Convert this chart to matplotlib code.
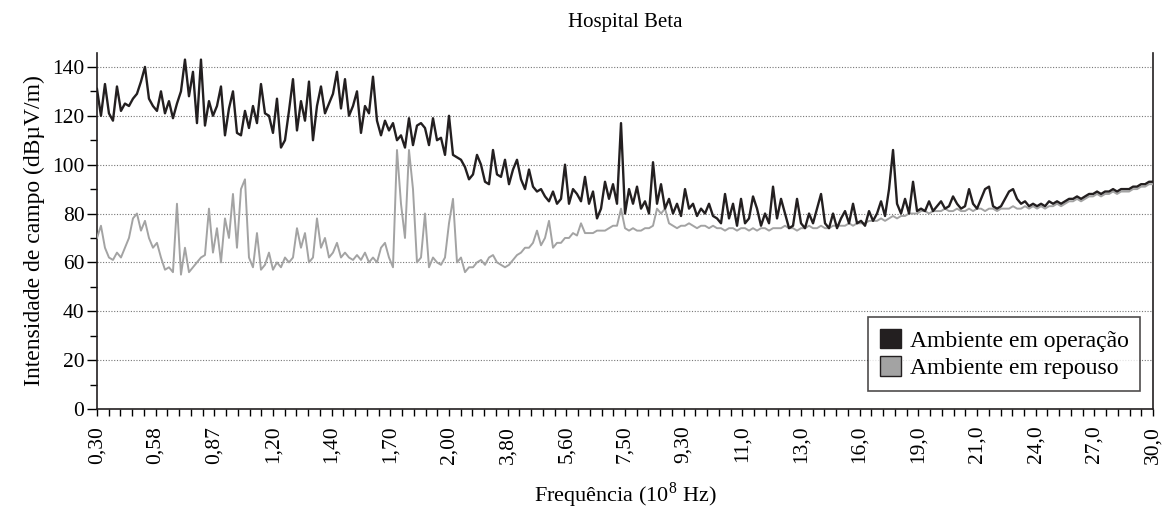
import matplotlib.pyplot as plt
import numpy as np
from matplotlib.patches import Patch

plt.rcParams['font.family'] = 'Liberation Serif'
plt.rcParams['mathtext.fontset'] = 'custom'
plt.rcParams['mathtext.rm'] = 'Liberation Serif'

# tick labels along the frequency axis (10^8 Hz)
freq_labels = ['0,30', '0,58', '0,87', '1,20', '1,40', '1,70', '2,00', '3,80', '5,60',
               '7,50', '9,30', '11,0', '13,0', '16,0', '19,0', '21,0', '24,0', '27,0', '30,0']

# field strength (dBuV/m), ambient in operation
operacao = [
    131, 120, 133, 121, 118, 132, 122, 125, 124, 127, 129, 134, 140, 127, 124,
    122, 130, 121, 126, 119, 125, 130, 143, 128, 138, 117, 143, 116, 126, 120,
    124, 132, 112, 123, 130, 113, 112, 122, 115, 124, 117, 133, 121, 120, 113, 127, 107,
    110, 122, 135, 114, 126, 118, 134, 110, 124, 132, 121, 125, 129, 138, 123,
    135, 120, 124, 130, 113, 124, 121, 136, 118, 112, 118, 114, 117, 110, 112,
    107, 119, 108, 116, 117, 115, 108, 119, 110, 111, 104, 120, 104, 103, 102, 99, 94,
    96, 104, 100, 93, 92, 106, 96, 95, 102, 92, 98, 102, 94, 90, 98,
    91, 89, 90, 87, 85, 89, 84, 86, 100, 84, 90, 88, 85, 95, 84,
    89, 78, 82, 93, 86, 92, 84, 117, 80, 90, 84, 91, 82, 85, 80, 101,
    84, 92, 82, 86, 80, 84, 79, 90, 82, 84, 79, 82, 80, 84, 79, 78,
    76, 88, 78, 84, 75, 86, 76, 78, 87, 82, 75, 80, 76, 91, 78,
    86, 80, 74, 75, 86, 76, 74, 80, 76, 82, 88, 76, 74, 80, 74,
    78, 81, 76, 84, 76, 77, 75, 81, 77, 80, 85, 79, 90, 106, 84, 80, 86, 80, 93,
    81, 82, 81, 85, 81, 83, 85, 82, 83, 87, 84, 82, 83, 90, 84, 82, 86, 90, 91, 83,
    82, 83, 86, 89, 90, 86, 84, 85, 83, 84, 83,
    84, 83, 85, 84, 85, 84, 85, 86, 86, 87, 86, 87, 88, 88, 89, 88, 89, 89, 90, 89,
    90, 90, 90, 91, 91, 92, 92, 93, 93,
]

# ambient at rest
repouso = [
    70, 75, 66, 62, 61, 64, 62, 66, 70, 78, 80, 73, 77, 70, 66,
    68, 62, 57, 58, 56, 84, 55, 66, 56, 58, 60, 62, 63, 82, 64,
    74, 60, 78, 70, 88, 66, 90, 94, 62, 58, 72, 57, 59, 64, 57, 60, 58,
    62, 60, 62, 74, 66, 72, 60, 62, 78, 66, 70, 62, 64, 68, 62,
    64, 62, 61, 63, 61, 64, 60, 62, 60, 66, 68, 62, 58, 106, 84,
    70, 106, 90, 60, 62, 80, 58, 62, 60, 59, 62, 76, 86, 60, 62, 56, 58,
    58, 60, 61, 59, 62, 63, 60, 59, 58, 59, 61, 63, 64, 66, 66,
    68, 73, 67, 70, 77, 66, 68, 68, 70, 70, 72, 71, 76, 72, 72,
    72, 73, 73, 73, 74, 75, 75, 82, 74, 73, 74, 73, 73, 74, 74, 75,
    82, 80, 82, 76, 75, 74, 75, 75, 76, 75, 74, 75, 75, 74, 75, 74,
    74, 73, 74, 74, 73, 74, 74, 73, 74, 73, 74, 74, 73, 74, 74,
    74, 75, 74, 74, 73, 74, 74, 75, 74, 74, 75, 74, 74, 75, 75,
    75, 75, 76, 75, 76, 76, 76, 77, 77, 77, 78, 77, 78, 79, 78, 79, 79, 80, 80,
    80, 81, 81, 80, 81, 81, 81, 82, 81, 81, 82, 81, 81, 82, 81, 82, 82, 81, 82, 82,
    81, 82, 82, 82, 83, 82, 82, 83, 82, 83, 82,
    83, 82, 83, 83, 84, 83, 84, 85, 85, 86, 85, 86, 87, 87, 88, 87, 88, 88, 89, 88,
    89, 89, 89, 90, 90, 91, 91, 92, 92,
]

COR_OPER = '#231f20'
COR_REP = '#a3a3a3'

fig = plt.figure(figsize=(11.64, 5.11), dpi=100)
ax = fig.add_axes([0.0833, 0.1996, 0.9073, 0.6967])

n_lab = len(freq_labels) - 1
x_oper = np.linspace(0, n_lab, len(operacao))
x_rep = np.linspace(0, n_lab, len(repouso))

ax.plot(x_rep, repouso, color=COR_REP, lw=1.4, zorder=3)
ax.plot(x_oper, operacao, color=COR_OPER, lw=1.7, zorder=4)

ax.set_xlim(0, n_lab)
ax.set_ylim(0, 145.7)

# axes / ticks
ax.set_xticks(np.arange(len(freq_labels)))
ax.set_xticklabels(freq_labels, rotation=90, fontsize=15.5)
ax.set_xticks(np.arange(0, n_lab + 0.01, 0.2), minor=True)
ax.set_yticks(np.arange(0, 141, 20))
ax.set_yticks(np.arange(10, 141, 20), minor=True)
ax.tick_params(axis='y', which='major', length=7, width=1, labelsize=15.5, pad=2)
ax.tick_params(axis='y', which='minor', length=5, width=1)
ax.tick_params(axis='x', which='both', length=5, width=1, pad=7)

for y in range(20, 141, 20):
    ax.axhline(y, color='#777777', lw=0.8, ls=(0, (1, 1.5)), zorder=1)

ax.spines['top'].set_visible(False)
for s in ['left', 'bottom', 'right']:
    ax.spines[s].set_linewidth(1.2)
    ax.spines[s].set_color('#231f20')

ax.set_ylabel('Intensidade de campo (dBµV/m)', fontsize=17, labelpad=5)
ax.set_xlabel('Frequência (10$^{8}$ Hz)', fontsize=16, labelpad=12)
ax.set_title('Hospital Beta', fontsize=15, pad=19)

handles = [Patch(facecolor=COR_OPER, edgecolor='#231f20', lw=1),
           Patch(facecolor=COR_REP, edgecolor='#231f20', lw=1)]
leg = ax.legend(handles, ['Ambiente em operação', 'Ambiente em repouso'],
                loc='lower right', bbox_to_anchor=(0.988, 0.05), borderaxespad=0,
                fontsize=17, frameon=True, fancybox=False, handlelength=0.9,
                handleheight=0.9, handletextpad=0.35, labelspacing=0.2,
                borderpad=0.5)
leg.get_frame().set_edgecolor('#231f20')
leg.get_frame().set_linewidth(1.2)
leg.set_zorder(10)

fig.savefig('out.png', dpi=100)
